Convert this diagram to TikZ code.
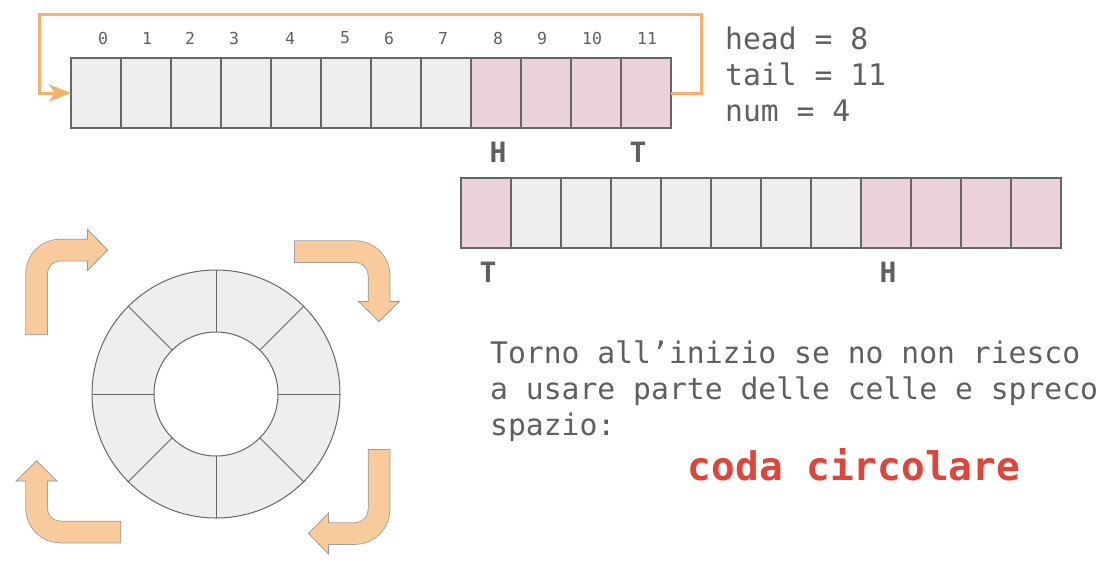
\documentclass[tikz,border=0pt]{standalone}
\usepackage{fontspec}
\setmonofont{DejaVu Sans Mono}
\usepackage{tikz}
\usetikzlibrary{arrows.meta,calc}
\definecolor{cellgray}{HTML}{EEEEEE}
\definecolor{cellpink}{HTML}{EAD1DC}
\definecolor{celledge}{HTML}{666666}
\definecolor{wraporange}{HTML}{F6B26B}
\definecolor{bentfill}{HTML}{F9CB9C}
\definecolor{bentedge}{HTML}{999999}
\definecolor{txtgray}{HTML}{5F5F5F}
\definecolor{codared}{HTML}{E0443A}
\newcommand{\bentarrow}[4]{%
\draw[bent edge] (#1) -- (#2) -- (#3);
\filldraw[bent head] ($(#3)!20.5pt!90:(#4)$) -- (#4) -- ($(#3)!20.5pt!-90:(#4)$) -- cycle;
\draw[bent body] ($(#1)!0.75pt!(#2)$) -- (#2) -- ($(#3)!1pt!(#4)$);
}

\begin{document}
\begin{tikzpicture}[x=1pt,y=-1pt,font=\ttfamily]
\tikzstyle{cell}=[draw=celledge,line width=1.5,fill=cellgray,minimum width=50,minimum height=70,inner sep=0,outer sep=0]
\tikzstyle{used}=[cell,fill=cellpink]
\tikzstyle{idx}=[text=txtgray,font=\ttfamily\fontsize{16.5}{18}\selectfont,inner sep=0]
\tikzstyle{ptr}=[text=txtgray,font=\ttfamily\bfseries\fontsize{28}{30}\selectfont,inner sep=0,anchor=base]
\tikzstyle{txt}=[text=txtgray,font=\ttfamily\fontsize{29.7}{36}\selectfont,inner sep=0,anchor=base west,align=left]
\tikzstyle{bent edge}=[line width=22.5,draw=bentedge,rounded corners=24]
\tikzstyle{bent body}=[line width=21,draw=bentfill,rounded corners=24]
\tikzstyle{bent head}=[fill=bentfill,draw=bentedge,line width=0.75,line join=miter]
\useasboundingbox (0,0) rectangle (1110,579);

\foreach \i in {0,...,7} \node[cell] (top\i) at (96+50*\i,93) {};
\foreach \i in {8,...,11} \node[used] (top\i) at (96+50*\i,93) {};
\foreach \i/\x in {0/103,1/147,2/190,3/234,4/290,5/345,6/389,7/443,8/498,9/542,10/592,11/647}
  \node[idx] (n\i) at (\x,38) {\i};
\coordinate (wr) at (701,14);
\coordinate (wl) at (39,14);
\draw[wraporange,line width=3,-{Stealth[length=22,width=17,inset=6]}] (top11.east) -| (wr) -- (wl) |- (top0.west);
\node[ptr] (h1) at (498,162.7) {H};
\node[ptr] (t1) at (638,162.7) {T};

\node[used] (bot0) at (486,213) {};
\foreach \i in {1,...,7} \node[cell] (bot\i) at (486+50*\i,213) {};
\foreach \i in {8,...,11} \node[used] (bot\i) at (486+50*\i,213) {};
\node[ptr] (t2) at (488,282.7) {T};
\node[ptr] (h2) at (888,282.7) {H};

\node[txt] (vars) at (725,121.7) {head = 8\\tail = 11\\num = 4};

\coordinate (c) at (216,394);
\filldraw[fill=cellgray,draw=celledge,line width=1,even odd rule] (c) circle (124) (c) circle (62);
\foreach \a in {0,45,...,315} \draw[celledge,line width=1] ($(c)+(\a:62)$) -- ($(c)+(\a:124)$);

\bentarrow{36.5,335}{36.5,250}{87.5,250}{107.5,250}
\bentarrow{294,251.5}{379,251.5}{379,301.5}{379,321.5}
\bentarrow{379,449}{379,533.5}{328.5,533.5}{308.5,533.5}
\bentarrow{121,532}{36.5,532}{36.5,481}{36.5,461}

\node[txt] (note) at (490,435) {Torno all’inizio se no non riesco\\a usare parte delle celle e spreco\\spazio:};
\node[txt,text=codared,font=\ttfamily\bfseries\fontsize{39.4}{44}\selectfont,anchor=base] (coda) at (854,480.7) {coda circolare};
\end{tikzpicture}
\end{document}
